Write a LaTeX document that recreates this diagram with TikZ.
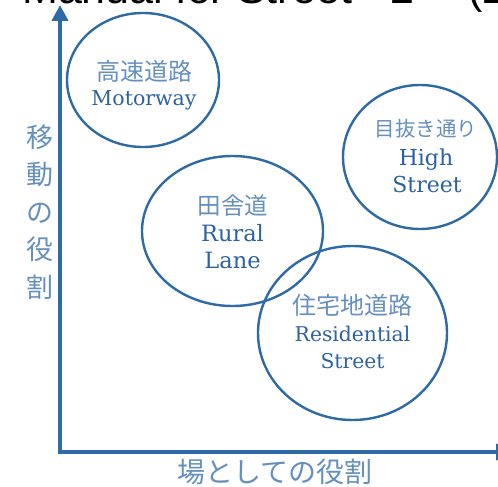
\documentclass[tikz,border=0pt]{standalone}
\usepackage{fontspec}
\newfontfamily\jpfont{Noto Sans CJK JP}
\newfontfamily\topfont{Liberation Sans}
\newfontfamily\enfont{DejaVu Serif}
\usetikzlibrary{shapes.geometric,arrows.meta}
\definecolor{lineblue}{HTML}{2E6AA5}
\definecolor{engblue}{HTML}{2D62A0}
\definecolor{jpblue}{HTML}{6590BE}
\begin{document}
\begin{tikzpicture}[x=1pt,y=-1pt,
  road/.style={ellipse, draw=lineblue, line width=2.4pt, inner sep=0pt},
  eng/.style={anchor=base, inner sep=0pt, text=engblue},
  jp/.style={anchor=center, inner sep=0pt, text=jpblue},
  axisline/.style={draw=lineblue, line width=4pt, line join=miter,
    {Triangle[length=16pt,width=16pt]}-{Triangle[length=16pt,width=16pt]}},
  toptext/.style={anchor=base west, inner sep=0pt, text=black, font=\topfont\fontsize{43}{43}\selectfont},
]
\useasboundingbox (0,0) rectangle (498,487);

% clipped title at the top
\node[toptext] (title) at (22,3.5) {Manual for Street - 2};
\node[toptext] (titleyear) at (468,3.5) {(2010)};

% axes
\coordinate (ytip) at (60,5);
\coordinate (origin) at (60,452);
\coordinate (xtip) at (512,452);
\draw[axisline] (ytip) -- (origin) -- (xtip);

% road types
\node[road, minimum width=152pt, minimum height=134pt] (motorway) at (143,80) {};
\node[road, minimum width=154pt, minimum height=144pt] (high) at (420,157) {};
\node[road, minimum width=181pt, minimum height=150pt] (rural) at (232.5,231) {};
\node[road, minimum width=189pt, minimum height=174pt] (resid) at (352.5,333) {};

% labels
\node[jp, font=\jpfont\fontsize{24}{24}\selectfont] (motorwayjp) at (144,71) {高速道路};
\node[eng, font=\enfont\fontsize{20.5}{20.5}\selectfont] (motorwayen) at (144,106) {Motorway};

\node[jp, font=\jpfont\fontsize{20.5}{20.5}\selectfont] (highjp) at (426,129) {目抜き通り};
\node[eng, font=\enfont\fontsize{22}{22}\selectfont] (highen) at (426,165) {High};
\node[eng, font=\enfont\fontsize{22}{22}\selectfont] (highen2) at (427,192) {Street};

\node[jp, font=\jpfont\fontsize{23.5}{23.5}\selectfont] (ruraljp) at (233,206) {田舎道};
\node[eng, font=\enfont\fontsize{22.5}{22.5}\selectfont] (ruralen) at (232.5,241) {Rural};
\node[eng, font=\enfont\fontsize{22.5}{22.5}\selectfont] (ruralen2) at (232.5,268) {Lane};

\node[jp, font=\jpfont\fontsize{24}{24}\selectfont] (residjp) at (352.5,305) {住宅地道路};
\node[eng, font=\enfont\fontsize{20.3}{20.3}\selectfont] (residen) at (352.5,341) {Residential};
\node[eng, font=\enfont\fontsize{20.3}{20.3}\selectfont] (residen2) at (352.5,368) {Street};

% axis labels
\node[jp, font=\jpfont\fontsize{27}{37.5}\selectfont, align=center] (ylabel) at (40,212) {移\\動\\の\\役\\割};
\node[jp, font=\jpfont\fontsize{28}{28}\selectfont] (xlabel) at (275,472) {場としての役割};
\end{tikzpicture}
\end{document}
